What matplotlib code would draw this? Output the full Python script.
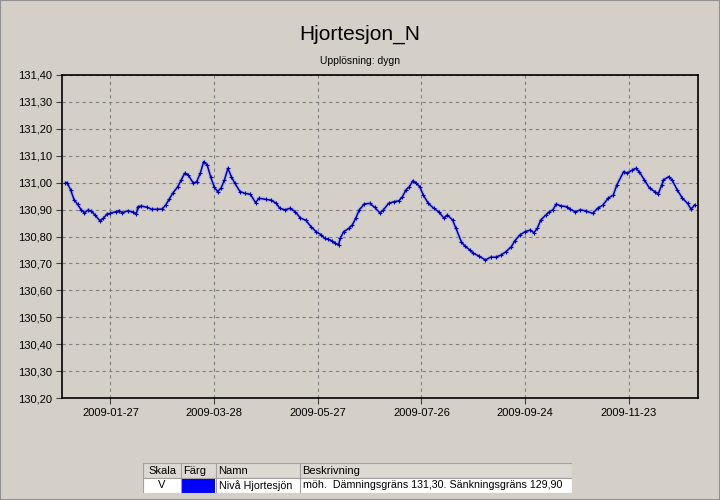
import numpy as np
import matplotlib.pyplot as plt
from matplotlib.patches import Rectangle

plt.rcParams['font.family'] = ['Liberation Sans', 'DejaVu Sans']

BG = '#d4d0c8'

title = 'Hjortesjon_N'
subtitle = 'Upplösning: dygn'

# day offset from 2009-01-01 and water level (m ö.h.)
days = [0, 1, 3, 5, 7, 9, 11, 13, 15, 17, 20, 22, 24, 26, 29, 31, 33, 36, 39, 41,
        42, 44, 47, 50, 53, 56, 58, 60, 62, 65, 67, 69, 71, 74, 76, 78, 80, 82, 84, 86,
        88, 90, 92, 94, 96, 98, 101, 104, 107, 110, 112, 116, 119, 122, 124, 127, 130, 133, 136, 139,
        142, 145, 148, 150, 152, 154, 156, 158, 159, 161, 164, 166, 168, 170, 173, 176, 179, 182, 184, 187,
        190, 193, 195, 197, 199, 201, 203, 205, 207, 210, 213, 216, 219, 221, 224, 226, 229, 231, 234, 236,
        239, 243, 246, 249, 252, 255, 258, 260, 263, 266, 269, 271, 273, 275, 278, 280, 282, 284, 287, 290,
        292, 295, 298, 301, 305, 308, 311, 314, 317, 319, 323, 325, 328, 330, 332, 335, 338, 341, 343, 345,
        346, 349, 351, 354, 357, 360, 362, 364]
levels = [131.000, 131.000, 130.973, 130.936, 130.920, 130.900, 130.888, 130.898, 130.895, 130.880,
          130.858, 130.868, 130.883, 130.886, 130.892, 130.896, 130.889, 130.895, 130.891, 130.884,
          130.911, 130.913, 130.909, 130.901, 130.901, 130.902, 130.917, 130.938, 130.960, 130.985,
          131.010, 131.035, 131.029, 130.998, 131.004, 131.035, 131.078, 131.066, 131.022, 130.985,
          130.967, 130.979, 131.010, 131.053, 131.022, 130.998, 130.967, 130.960, 130.957, 130.926,
          130.942, 130.938, 130.935, 130.923, 130.905, 130.899, 130.905, 130.892, 130.868, 130.861,
          130.837, 130.818, 130.806, 130.793, 130.790, 130.784, 130.775, 130.769, 130.793, 130.818,
          130.830, 130.843, 130.868, 130.899, 130.921, 130.923, 130.908, 130.887, 130.899, 130.923,
          130.929, 130.933, 130.948, 130.973, 130.985, 131.007, 130.998, 130.985, 130.954, 130.923,
          130.905, 130.892, 130.868, 130.880, 130.861, 130.830, 130.781, 130.765, 130.750, 130.738,
          130.728, 130.713, 130.723, 130.723, 130.731, 130.744, 130.762, 130.784, 130.806, 130.818,
          130.824, 130.814, 130.830, 130.861, 130.880, 130.892, 130.899, 130.920, 130.913, 130.911,
          130.901, 130.892, 130.899, 130.895, 130.886, 130.905, 130.917, 130.942, 130.954, 130.991,
          131.041, 131.035, 131.047, 131.053, 131.041, 131.010, 130.979, 130.967, 130.958, 130.991,
          131.010, 131.022, 131.010, 130.973, 130.942, 130.923, 130.901, 130.917]

xtick_dates = ['2009-01-27', '2009-03-28', '2009-05-27', '2009-07-26', '2009-09-24', '2009-11-23']
yticks = [130.2, 130.3, 130.4, 130.5, 130.6, 130.7, 130.8, 130.9, 131.0, 131.1, 131.2, 131.3, 131.4]

legend_header = ['Skala', 'Färg', 'Namn', 'Beskrivning']
legend_row = ['V', '', 'Nivå Hjortesjön', 'möh.  Dämningsgräns 131,30. Sänkningsgräns 129,90']

dates = np.datetime64('2009-01-01') + np.array(days).astype('timedelta64[D]')

fig = plt.figure(figsize=(7.2, 5.0), dpi=100, facecolor=BG)

# window style border
fig.patches.append(Rectangle((0, 0), 1, 1, transform=fig.transFigure, fill=False,
                             edgecolor='#909090', lw=1.5, zorder=-1))

ax = fig.add_axes([62 / 720, 102 / 500, 636 / 720, 323 / 500], facecolor=BG)
ax.plot(dates, levels, color='#a8a8f0', lw=3.0, alpha=0.55, solid_capstyle='round')
ax.plot(dates, levels, color='#0000b0', lw=1.1, marker='+', ms=3, mew=0.8)

ax.set_xlim(np.datetime64('2008-12-30'), np.datetime64('2010-01-02'))
ax.set_ylim(130.2, 131.4)
ax.set_yticks(yticks)
ax.set_yticklabels([f'{v:.2f}'.replace('.', ',') for v in yticks], fontsize=8)
ax.set_xticks([np.datetime64(d) for d in xtick_dates])
ax.set_xticklabels(xtick_dates, fontsize=8)
ax.tick_params(axis='both', length=4, width=0.8, color='#404040', pad=3)
ax.grid(True, color='#808080', linestyle=(0, (3, 3)), lw=0.8)
for sp in ax.spines.values():
    sp.set_color('black')
    sp.set_linewidth(1.2)

fig.text(0.5, 1 - 34 / 500, title, ha='center', va='center', fontsize=15)
fig.text(0.5, 1 - 61 / 500, subtitle, ha='center', va='center', fontsize=7.5)

# legend table at the bottom
tx = fig.add_axes([143 / 720, 7 / 500, 429 / 720, 30 / 500])
tx.set_xlim(143, 572)
tx.set_ylim(493, 463)
tx.axis('off')
cols = [143, 181, 216, 300, 572]
tx.add_patch(Rectangle((143, 463), 429, 15, facecolor='#dcd9d2', edgecolor='#a0a0a0', lw=0.8))
tx.add_patch(Rectangle((143, 478), 429, 15, facecolor='white', edgecolor='#a0a0a0', lw=0.8))
for c in cols[1:-1]:
    tx.plot([c, c], [463, 493], color='#a0a0a0', lw=0.8)
tx.add_patch(Rectangle((182, 479), 33, 13.5, facecolor='#0000ff', edgecolor='none'))
for i, h in enumerate(legend_header):
    if i == 0:
        tx.text((cols[0] + cols[1]) / 2, 470.5, h, ha='center', va='center', fontsize=8)
    else:
        tx.text(cols[i] + 2, 470.5, h, ha='left', va='center', fontsize=8)
for i, v in enumerate(legend_row):
    if i == 0:
        tx.text((cols[0] + cols[1]) / 2, 485.5, v, ha='center', va='center', fontsize=8)
    elif v:
        tx.text(cols[i] + 3, 485.5, v, ha='left', va='center', fontsize=7.7)

fig.savefig('out.png', dpi=100, facecolor=BG)
